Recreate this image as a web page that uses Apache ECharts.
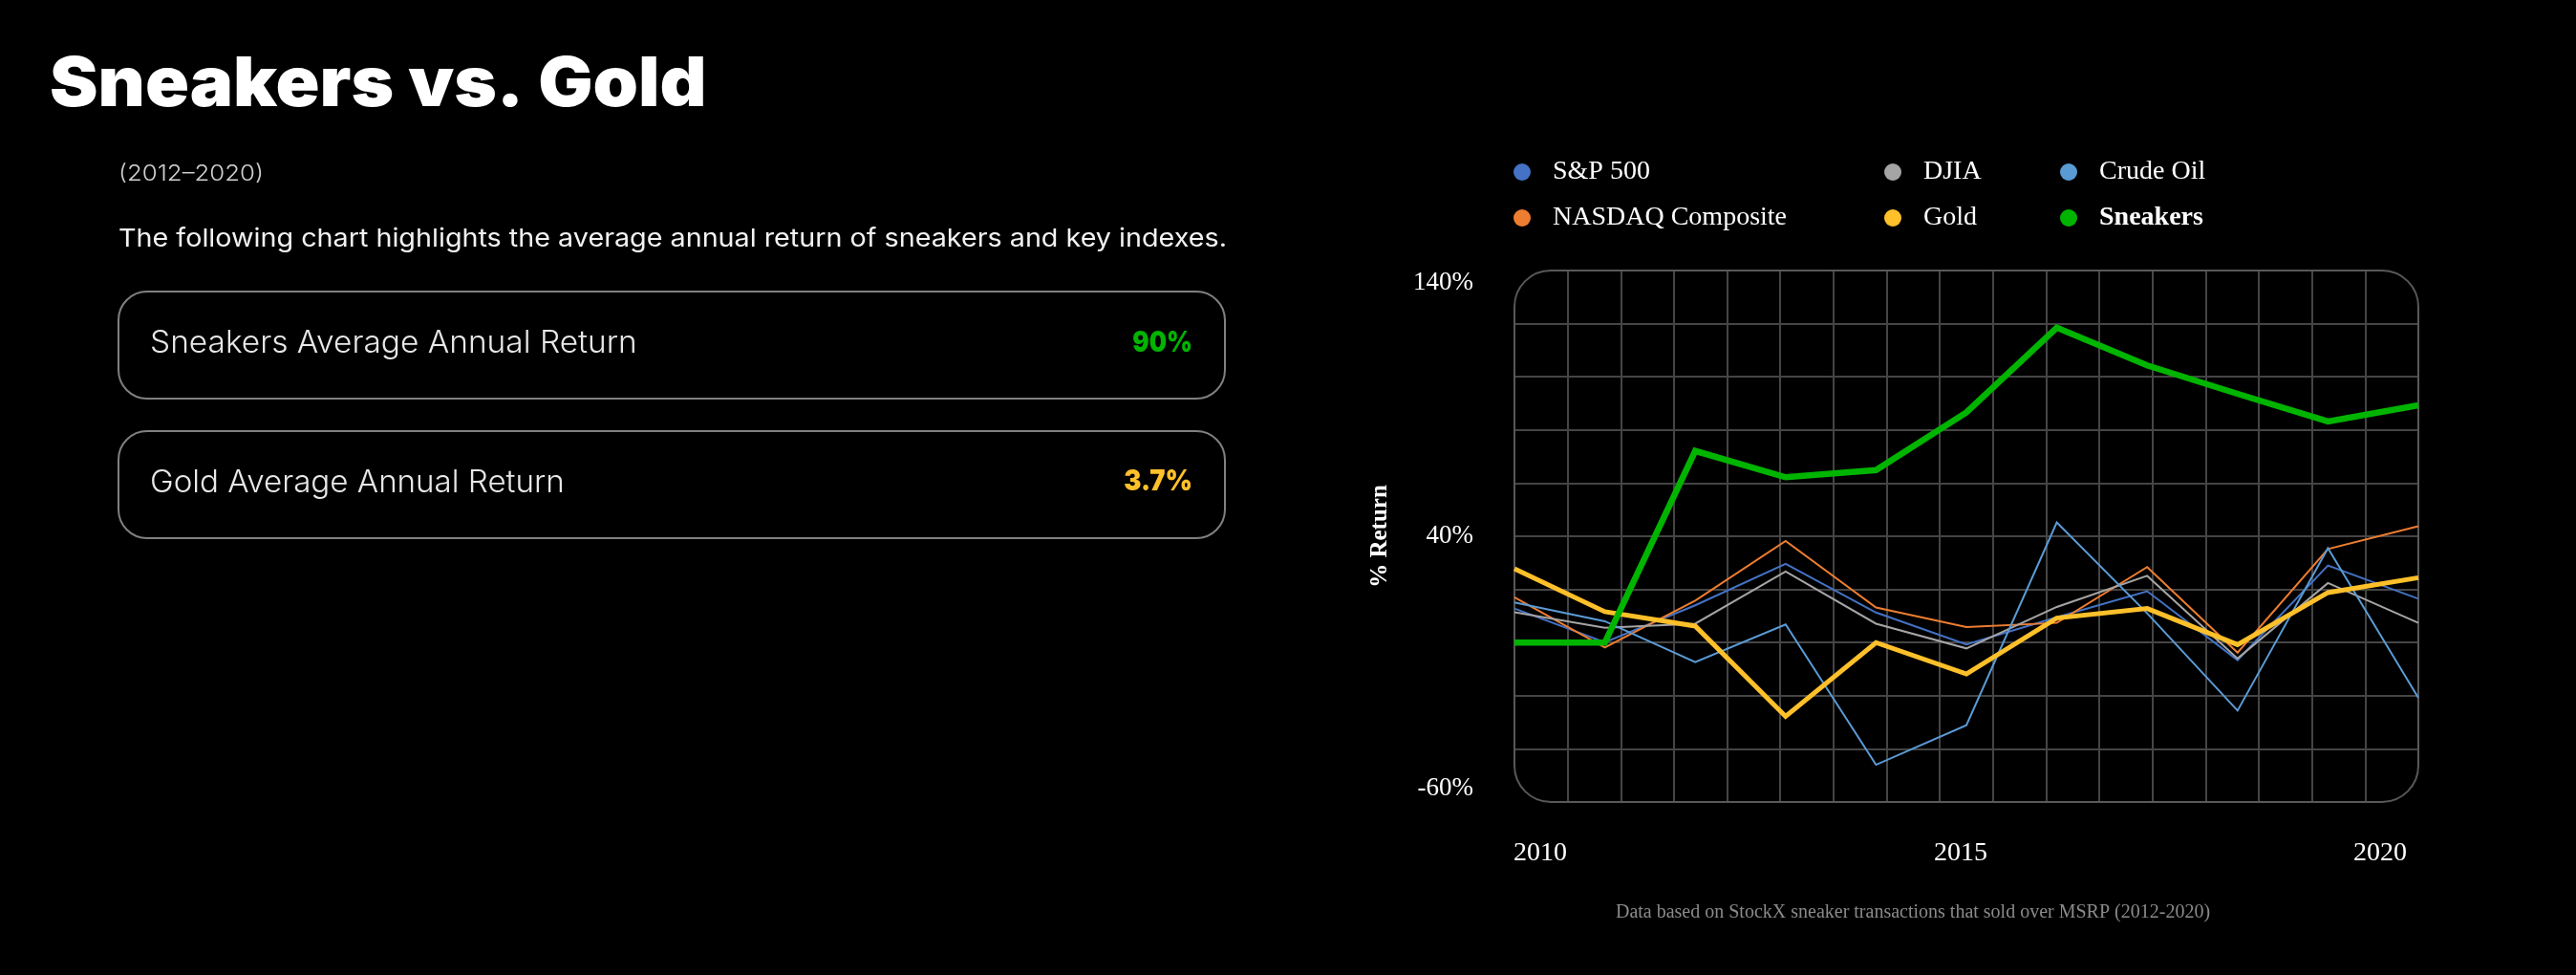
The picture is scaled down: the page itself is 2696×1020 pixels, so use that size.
<!DOCTYPE html>
<html>
<head>
<meta charset="utf-8">
<script src="https://cdn.jsdelivr.net/npm/echarts@6/dist/echarts.min.js"></script>
<style>
html,body{margin:0;padding:0;background:#000;}
#c{width:2696px;height:1020px;}
</style>
</head>
<body>
<div id="c"></div>
<script>
// ---- data ----
const years = [2010, 2011, 2012, 2013, 2014, 2015, 2016, 2017, 2018, 2019, 2020];
const sp500    = [12.8, 0.1, 14.0, 29.6, 11.3, -0.7, 9.5, 19.3, -6.6, 29.0, 16.5];
const nasdaq   = [17.0, -1.9, 15.8, 38.2, 13.2, 5.8, 7.4, 28.4, -3.8, 35.2, 43.8];
const djia     = [11.4, 5.6, 7.1, 26.7, 7.1, -2.2, 13.4, 25.1, -6.0, 22.4, 7.4];
const crudeOil = [15.1, 8.0, -7.4, 6.8, -46.0, -31.1, 45.2, 11.0, -25.6, 35.5, -20.8];
const gold     = [27.8, 11.6, 6.2, -27.8, 0.0, -11.8, 9.2, 12.8, -0.8, 18.8, 24.4];
const sneakers = [0.0, 0.0, 72.1, 62.2, 64.9, 86.6, 118.5, 104.3, 93.6, 83.2, 89.3];
const xTickLabels = [2010, 2015, 2020];
const yTickLabels = [140, 40, -60];
const seriesNames = ['S&P 500', 'NASDAQ Composite', 'DJIA', 'Crude Oil', 'Gold', 'Sneakers'];
const titleText = 'Sneakers vs. Gold';
const subText = '(2012–2020)';
const descText = 'The following chart highlights the average annual return of sneakers and key indexes.';
const stat1Label = 'Sneakers Average Annual Return', stat1Value = '90%';
const stat2Label = 'Gold Average Annual Return', stat2Value = '3.7%';
const footText = 'Data based on StockX sneaker transactions that sold over MSRP (2012-2020)';

// ---- styles ----
const C = {
  sp: '#4472C4', nq: '#ED7D31', dj: '#A5A5A5', oil: '#5B9BD5', gold: '#FFC02A', snk: '#00B400'
};
const serif = '"Liberation Serif", "Times New Roman", serif';
const sans = 'Inter, "Noto Sans", sans-serif';
const G = {left: 1585, top: 283, width: 946, height: 556};

function pairs(vals){ return years.map((y,i)=>[y, vals[i]]); }

const chart = echarts.init(document.getElementById('c'), null, {renderer:'canvas'});

function mkSeries(name, vals, color, width, z){
  return {
    name, type:'line', data: pairs(vals), xAxisIndex:0, yAxisIndex:0,
    symbol:'none', showSymbol:false, z,
    lineStyle:{color, width, join:'miter'}, itemStyle:{color},
    emphasis:{disabled:true}
  };
}

const legendBase = {
  orient:'vertical', icon:'circle', itemWidth:18, itemHeight:18, itemGap:18, padding:0,
  selectedMode:false,
  textStyle:{color:'#fff', fontFamily:serif, fontSize:28, lineHeight:30, padding:[0,0,0,18]}
};

function txt(x, y, text, font, fill, sx, align){
  return {type:'text', silent:true, x, y, scaleX:sx||1,
    style:{text, x:0, y:0, font, fill, align:align||'left', verticalAlign:'middle'}};
}

const option = {
  backgroundColor:'#000',
  animation:false,
  legend:[
    Object.assign({}, legendBase, {left:1584, top:165, data:[seriesNames[0], seriesNames[1]]}),
    Object.assign({}, legendBase, {left:1972, top:165, data:[seriesNames[2], seriesNames[4]]}),
    Object.assign({}, legendBase, {left:2156, top:165, data:[seriesNames[3], {name:seriesNames[5], textStyle:{fontWeight:'bold'}}]})
  ],
  grid:{left:G.left, top:G.top, width:G.width, height:G.height, containLabel:false},
  xAxis:[
    {
      type:'value', min:years[0], max:years[years.length-1], interval:5,
      axisLine:{show:false}, axisTick:{show:false}, splitLine:{show:false},
      axisLabel:{
        color:'#fff', fontFamily:serif, fontSize:28, margin:40,
        formatter:function(v){
          if (v===xTickLabels[0]) return '{l|'+v+'}';
          if (v===xTickLabels[1]) return '{c|'+v+'}';
          if (v===xTickLabels[2]) return '{r|'+v+'}';
          return '';
        },
        rich:{
          l:{color:'#fff', fontFamily:serif, fontSize:28, padding:[0,0,0,54]},
          c:{color:'#fff', fontFamily:serif, fontSize:28, padding:[0,12,0,0]},
          r:{color:'#fff', fontFamily:serif, fontSize:28, padding:[0,80,0,0]}
        }
      }
    },
    {
      type:'value', min:0, max:17, interval:1, position:'top',
      axisLine:{show:false}, axisTick:{show:false}, axisLabel:{show:false},
      splitLine:{show:true, showMinLine:false, showMaxLine:false, lineStyle:{color:'#454545', width:2}}
    }
  ],
  yAxis:[
    {
      type:'value', min:-60, max:140, interval:20,
      name:'% Return', nameLocation:'middle', nameGap:128, nameRotate:90,
      nameTextStyle:{color:'#fff', fontFamily:serif, fontSize:25, fontWeight:'bold'},
      axisLine:{show:false}, axisTick:{show:false},
      splitLine:{show:true, showMinLine:false, showMaxLine:false, lineStyle:{color:'#454545', width:2}},
      axisLabel:{
        color:'#fff', fontFamily:serif, fontSize:27, margin:43,
        formatter:function(v){
          if (v===yTickLabels[0]) return '{t|'+v+'%}';
          if (v===yTickLabels[1]) return '{m|'+v+'%}';
          if (v===yTickLabels[2]) return '{b|'+v+'%}';
          return '';
        },
        rich:{
          t:{color:'#fff', fontFamily:serif, fontSize:27, padding:[26,0,0,0]},
          m:{color:'#fff', fontFamily:serif, fontSize:27},
          b:{color:'#fff', fontFamily:serif, fontSize:27, padding:[0,0,28,0]}
        }
      }
    }
  ],
  series:[
    mkSeries(seriesNames[0], sp500, C.sp, 2, 2),
    mkSeries(seriesNames[1], nasdaq, C.nq, 2, 2),
    mkSeries(seriesNames[2], djia, C.dj, 2, 2),
    mkSeries(seriesNames[3], crudeOil, C.oil, 2, 2),
    mkSeries(seriesNames[4], gold, C.gold, 5, 3),
    mkSeries(seriesNames[5], sneakers, C.snk, 6.5, 4)
  ],
  graphic:[
    {type:'rect', z:1, silent:true, shape:{x:G.left, y:G.top, width:G.width, height:G.height, r:38},
      style:{fill:'none', stroke:'#585858', lineWidth:2}},
    txt(52, 89, titleText, '900 72px '+sans, '#fff', 1.055),
    txt(124, 182, subText, '300 23px '+sans, '#cfcfcf', 1.12),
    txt(124, 250, descText, '400 26px '+sans, '#f2f2f2', 1.105),
    {type:'rect', silent:true, shape:{x:124, y:305, width:1158, height:112, r:30}, style:{fill:'none', stroke:'#808080', lineWidth:2}},
    {type:'rect', silent:true, shape:{x:124, y:451, width:1158, height:112, r:30}, style:{fill:'none', stroke:'#808080', lineWidth:2}},
    txt(157, 359, stat1Label, '300 32px '+sans, '#e8e8e8', 1.045),
    txt(1248, 359, stat1Value, '900 30px '+sans, C.snk, 0.86, 'right'),
    txt(157, 505, stat2Label, '300 32px '+sans, '#e8e8e8', 1.035),
    txt(1248, 504, stat2Value, '900 30px '+sans, C.gold, 0.91, 'right'),
    {type:'text', silent:true, style:{text:footText, x:2002, y:955, font:'20px '+serif, fill:'#8a8a8a', align:'center', verticalAlign:'middle'}}
  ]
};
chart.setOption(option);
</script>
</body>
</html>
